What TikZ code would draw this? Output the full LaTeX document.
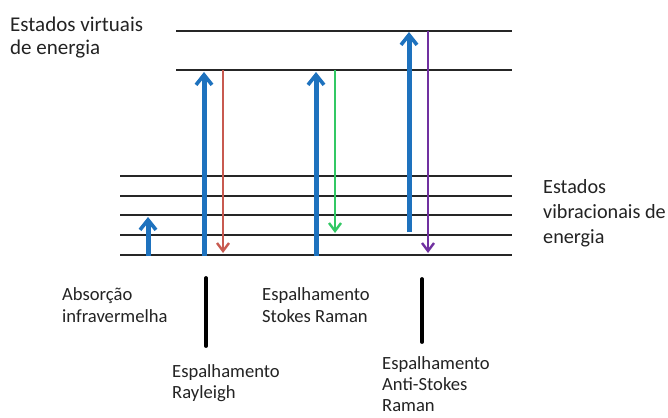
\documentclass[tikz,border=0pt]{standalone}
\usepackage{fontspec}
\setmainfont{Carlito}
\usetikzlibrary{arrows.meta}
\definecolor{upblue}{RGB}{30,114,190}
\definecolor{rayred}{RGB}{200,90,80}
\definecolor{stokesgreen}{RGB}{50,200,100}
\definecolor{antipurple}{RGB}{112,48,160}
\definecolor{txtgray}{RGB}{35,35,35}
\tikzset{
  level/.style={line width=2.6pt, black!85},
  excite/.style={line width=5pt, upblue, -{Straight Barb[length=10pt,width=16pt,line width=3.6pt]}},
  emit/.style={line width=2.4pt, -{Straight Barb[length=8pt,width=12pt,line width=2.4pt]}},
  marker/.style={line width=3.8pt, black, line cap=round},
  lbl/.style={anchor=base west, inner sep=0pt, text=txtgray, font=\fontsize{18.6}{22}\selectfont},
  viblbl/.style={lbl, font=\fontsize{20.2}{24}\selectfont},
  virtlbl/.style={lbl, font=\fontsize{21}{24}\selectfont}
}
\begin{document}
\begin{tikzpicture}[x=1pt,y=-1pt]
\useasboundingbox (0,0) rectangle (668,417);
\fill[white] (0,0) rectangle (668,417);

% energy levels
\foreach \n/\y in {v1/31,v2/70}{
  \coordinate (\n L) at (176,\y); \coordinate (\n R) at (512,\y);
  \draw[level] (\n L) -- (\n R);
}
\foreach \n/\y in {e4/176,e3/196,e2/215,e1/235,e0/255}{
  \coordinate (\n L) at (120,\y); \coordinate (\n R) at (512,\y);
  \draw[level] (\n L) -- (\n R);
}

% infrared absorption
\coordinate (irA) at (148,256); \coordinate (irB) at (148,217);
\draw[excite] (irA) -- (irB);

% Rayleigh
\coordinate (rayA) at (204,256); \coordinate (rayB) at (204,72);
\coordinate (rayC) at (223,70);  \coordinate (rayD) at (223,253);
\draw[excite] (rayA) -- (rayB);
\draw[emit, rayred] (rayC) -- (rayD);

% Stokes Raman
\coordinate (stA) at (316,256); \coordinate (stB) at (316,72);
\coordinate (stC) at (335,70);  \coordinate (stD) at (335,233);
\draw[excite] (stA) -- (stB);
\draw[emit, stokesgreen] (stC) -- (stD);

% anti-Stokes Raman
\coordinate (asA) at (409,232); \coordinate (asB) at (409,32);
\coordinate (asC) at (428,31);  \coordinate (asD) at (428,253);
\draw[excite] (asA) -- (asB);
\draw[emit, antipurple] (asC) -- (asD);

% pointer bars
\coordinate (b1T) at (206,278); \coordinate (b1B) at (206,346);
\coordinate (b2T) at (422,279); \coordinate (b2B) at (422,342);
\draw[marker] (b1T) -- (b1B);
\draw[marker] (b2T) -- (b2B);

% labels, one node per printed line
\node[virtlbl] (virt1) at (10,32) {Estados virtuais};
\node[virtlbl] (virt2) at (10,55) {de energia};
\node[viblbl] (vib1) at (543,193) {Estados};
\node[viblbl] (vib2) at (543,218) {vibracionais de};
\node[viblbl] (vib3) at (543,243) {energia};
\node[lbl] (abs1) at (62,300) {Absorção};
\node[lbl] (abs2) at (62,322) {infravermelha};
\node[lbl] (st1) at (262,300) {Espalhamento};
\node[lbl] (st2) at (262,322) {Stokes Raman};
\node[lbl] (ray1) at (172,377) {Espalhamento};
\node[lbl] (ray2) at (172,398) {Rayleigh};
\node[lbl] (as1) at (382,369) {Espalhamento};
\node[lbl] (as2) at (382,390) {Anti-Stokes};
\node[lbl] (as3) at (382,411) {Raman};
\end{tikzpicture}
\end{document}
